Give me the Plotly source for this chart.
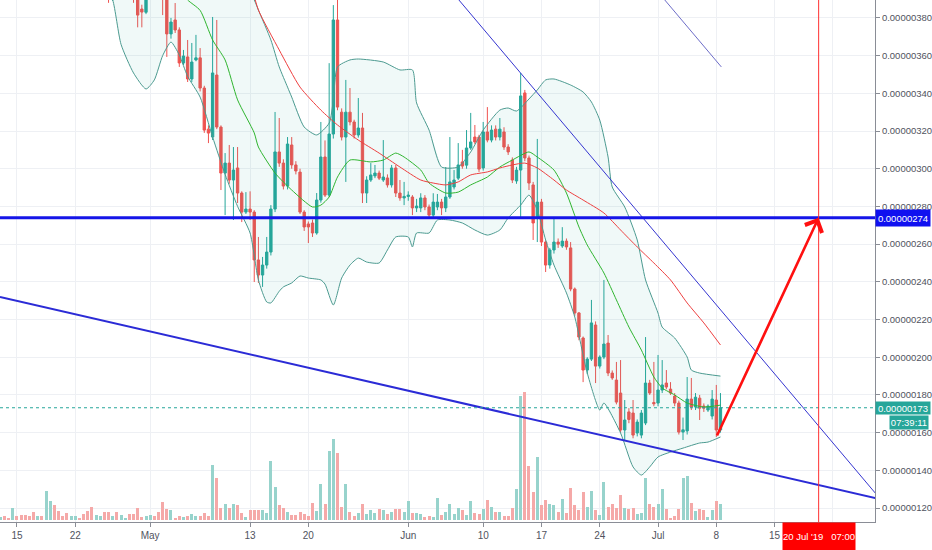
import numpy as np
import pandas as pd
import plotly.graph_objects as go

SAT = 1e-8  # prices below are in satoshi

# 12h candles from 13 Apr 2019 (the first ~26 are above the visible range)
opens = [428, 431, 427, 425, 429, 426, 423, 421, 419, 414, 417, 414, 426, 432, 422, 416, 414, 410, 413, 415,
         412, 408, 403, 398, 402, 405, 399, 390, 395, 392, 396, 398, 393, 391, 384.7, 383, 392, 396, 393, 392,
         390.5, 371.5, 378.9, 373.6, 356.1, 359.3, 347.6, 357.7, 358.8, 342.8, 321, 316.8, 349.7, 322.1, 297.7, 303, 294, 300.4, 287.1, 277,
         278.6, 277, 251.6, 243.6, 248.9, 255.8, 278.6, 308.9, 303, 290.8, 312.6, 302, 298.2, 277, 270.7, 271.2, 265.9, 283.4, 306.2, 286,
         318.4, 378.9, 330, 316.8, 330, 324.8, 317.9, 321.6, 287.1, 294, 296.2, 297.7, 294, 295.1, 291.4, 300.4, 287.1, 284.5, 285.3, 285,
         279.2, 279.2, 284.5, 279.7, 275.4, 279.7, 282.3, 279.2, 285, 290.3, 295, 303.6, 301.9, 311, 316.8, 316.8, 300.4, 319.5, 315.2, 321,
         316.8, 319.5, 311.5, 304.6, 293.5, 299.3, 340.2, 305.7, 291.4, 273.9, 282.3, 261.1, 248.9, 256.9, 261.1, 259, 261.6, 258, 236.2, 223.5,
         210.2, 193.2, 199, 217.1, 195.3, 200.1, 207.5, 191.6, 187.9, 181, 161.4, 171, 170.4, 159.8, 158.7, 165.1, 186.3, 176, 175.7, 182.6,
         186.3, 183.1, 179.4, 175.7, 160.3, 160.9, 177.8, 173.6, 178.3, 174.1, 172, 168.8, 177.3, 161.4]
highs = [432, 433, 429, 431, 430, 428, 425, 423, 420, 418, 418, 430, 435, 434, 424, 418, 416, 414, 416, 416,
         413, 410, 405, 404, 407, 406, 401, 397, 398, 397, 400, 399, 395, 394, 387, 394, 398, 398, 396, 395,
         392, 380, 387.9, 375, 363, 368.3, 366.7, 371, 364, 344, 323, 380.5, 378.9, 323, 308.3, 312.6, 311.5, 311.5, 288, 287.6,
         288, 278, 263.8, 253.2, 263.8, 280.7, 330.1, 326.9, 305, 316.8, 316.8, 304, 300, 278, 272, 273, 287.1, 324.8, 315, 356,
         386.8, 392, 332, 347.1, 342.8, 326, 337.5, 329.6, 296, 303, 302, 299, 315.2, 297, 302, 302, 294, 293, 288, 286,
         284, 287, 286, 281, 287, 286.6, 284, 300.9, 316.8, 299.3, 313.6, 310, 320.5, 329.6, 323.2, 318, 324.8, 332.7, 323, 323,
         326.9, 322, 313, 306, 301, 350.8, 341.8, 307, 293, 315.8, 284, 262, 258, 274.4, 263, 269, 263, 261.1, 237, 224,
         211, 200, 230.4, 219, 201, 241, 211.8, 193, 197.5, 198.5, 177.3, 173, 177.3, 167, 172, 210.7, 188, 197.5, 201.2, 198.5,
         193.2, 186.8, 181, 177, 168, 189.5, 189, 181, 180, 175.5, 175, 182.6, 185.3, 181]
lows = [426, 426, 424, 424, 425, 422, 420, 418, 412, 412, 413, 413, 424, 420, 414, 412, 408, 408, 411, 411,
        406, 401, 396, 396, 400, 397, 388, 389, 390, 391, 394, 392, 388, 375, 375, 382, 390, 391, 390, 381.5,
        359.3, 369, 372, 354, 355, 346, 346, 357, 341, 319, 313.6, 315.2, 321, 288.7, 275.4, 292, 272.8, 281.8, 271.7, 276,
        272.8, 239.9, 239.4, 237.3, 247, 254, 277, 301, 289, 289, 300, 297, 276, 267, 260.6, 263.8, 265, 282, 285, 285,
        316, 331, 315, 293, 323, 316, 316.5, 281.8, 281.8, 293, 295, 294, 293, 290, 290, 285, 283, 280.7, 283, 275.4,
        277, 277, 278, 273.9, 274, 278, 275.4, 277, 284, 289, 294, 300, 300, 310, 313, 298.3, 299, 314, 314, 315,
        315, 310, 307.3, 292.4, 292, 274.4, 304, 288.7, 262.2, 261.1, 259, 245.2, 247, 255, 258, 258, 257, 235, 222, 209,
        186.8, 191, 198, 186.3, 194, 199, 190, 188, 175, 160, 156.1, 165, 157, 158, 157, 164, 180, 174, 174, 181,
        183, 180, 174, 159, 156.1, 159, 172, 172, 166.7, 171, 171, 167, 157.7, 160]
closes = [431, 427, 425, 429, 426, 423, 421, 419, 414, 417, 414, 426, 432, 422, 416, 414, 410, 413, 415, 412,
          408, 403, 398, 402, 405, 399, 390, 395, 392, 396, 398, 393, 390, 381.5, 383.1, 392, 396, 393, 392, 390.5,
          371.5, 377.8, 373.6, 356.1, 359.8, 347.6, 356.6, 358.8, 342.8, 320.5, 318.9, 350.8, 322.1, 297.7, 303, 294, 299.3, 287.1, 277, 278.6,
          277, 251.6, 243.6, 248.9, 255.8, 278.6, 308.9, 303, 290.8, 313.1, 302, 298.8, 277, 269.1, 269.1, 265.9, 283.4, 306.2, 286, 318.4,
          378.9, 332.7, 316.8, 330, 324.8, 317.9, 321.6, 287.1, 294, 296.7, 297.7, 295, 295.6, 291.4, 300.4, 287.1, 284.5, 285.3, 286, 279.2,
          280.2, 284.5, 279.7, 275.4, 282.3, 282.3, 279.2, 285, 293, 294, 302, 301.4, 311, 314.2, 314.2, 299.8, 319.5, 315.2, 320.5, 316.8,
          321, 311.5, 308.9, 294, 299.3, 338.6, 305.7, 292.4, 271.2, 282.3, 261.1, 248.9, 256.9, 261.1, 260, 261.6, 258.5, 236.2, 223.5, 210.7,
          193.2, 199, 218.2, 195.3, 200.1, 207, 191.6, 189, 176.2, 161.4, 166.7, 167, 158.7, 165.6, 170.4, 186.3, 181, 175.3, 182.6, 185.3,
          184.2, 181, 175.7, 160.3, 161.5, 177.8, 173.6, 178.8, 173, 173, 174.1, 177.8, 161.4, 173.2]
volumes = [3, 4, 2, 12, 4, 5, 5, 4, 8, 4, 4, 29, 19, 15, 9, 4, 7, 4, 4, 2,
           6, 9, 13, 5, 4, 8, 8, 4, 8, 5, 2, 6, 6, 12, 3, 4, 5, 4, 8, 18,
           11, 10, 2, 4, 3, 4, 6, 4, 4, 7, 4, 55, 42, 12, 16, 12, 16, 15, 7, 3,
           10, 10, 10, 10, 7, 59, 33, 15, 12, 8, 5, 5, 8, 6, 4, 17, 9, 36, 16, 69,
           81, 67, 13, 36, 8, 4, 7, 16, 6, 10, 7, 11, 10, 6, 8, 11, 11, 8, 19, 7,
           7, 6, 3, 4, 3, 22, 5, 8, 16, 6, 12, 10, 5, 19, 7, 6, 11, 20, 13, 8,
           8, 4, 4, 12, 31, 124, 128, 54, 28, 63, 15, 20, 16, 15, 8, 21, 7, 32, 15, 10,
           28, 13, 29, 10, 5, 38, 13, 16, 12, 25, 12, 11, 12, 6, 7, 42, 16, 13, 16, 31,
           11, 2, 4, 11, 42, 44, 17, 9, 11, 10, 3, 10, 19, 16]

# Bollinger bands (20) and moving averages, read at candle indices
bb_upper_idx = [25, 35, 45, 52, 58, 61, 62, 65, 67, 69, 70, 73, 76, 79, 80, 81, 84, 86, 92, 96, 99, 100, 103, 106, 110,
                113, 116, 120, 122, 124, 127, 129, 131, 133, 137, 140, 142, 144, 146, 147, 150, 153, 155, 158, 159, 162,
                165, 166, 168, 173]
bb_upper = [455, 445, 430, 418, 400, 389.5, 384.2, 368.3, 354, 343.3, 338, 322.1, 317.9, 324.2, 336.5, 354, 357.7, 358.2,
            356.6, 352.4, 352.4, 334.9, 320.5, 300.9, 300.9, 308.9, 320.5, 331.1, 332.2, 330.6, 337, 341.8, 347.1, 347.6,
            344.4, 340.7, 335.4, 325.8, 306.2, 290.3, 279.7, 262.2, 241, 223.4, 216, 210.2, 200.1, 193.2, 191.6, 190]
bb_lower_idx = [25, 27, 29, 32, 35, 37, 39, 41, 43, 45, 48, 51, 54, 57, 60, 62, 64, 65, 67, 68, 70, 72, 74, 77, 78, 80,
                82, 84, 86, 88, 91, 93, 95, 98, 99, 100, 103, 105, 108, 111, 114, 117, 120, 122, 125, 127, 129, 131, 133,
                136, 138, 141, 144, 145, 149, 152, 154, 156, 158, 161, 164, 168, 170, 173]
bb_lower = [398, 389.5, 366, 350.8, 342.3, 347.1, 360, 367.2, 360.3, 349, 338, 316.8, 297, 280, 265.9, 241, 229.3, 228.8,
            235, 237.3, 239.4, 243.1, 242, 241, 238.8, 227.7, 242, 248.9, 252.6, 250.5, 250, 256.9, 263.8, 263.8, 258.5,
            265.9, 265.9, 272.8, 272.8, 271.2, 267.5, 264.8, 267.5, 273.9, 280.7, 286, 278.1, 262.2, 248.9, 234.1, 221.3,
            191.6, 172, 175.7, 159.8, 141.8, 137.5, 141.8, 147.1, 149.7, 151.8, 154.5, 155, 157.7]
bb_mid_idx = [43, 45, 48, 51, 54, 57, 61, 62, 66, 70, 75, 77, 79, 81, 84, 89, 92, 95, 97, 101, 103, 107, 110, 113, 117,
              120, 123, 127, 129, 133, 136, 139, 141, 145, 148, 151, 154, 157, 159, 162, 165, 169, 173]
bb_mid = [395, 389.5, 384, 368.3, 357.7, 336.5, 319, 311.5, 297.7, 288.7, 279.7, 280.7, 285, 295.6, 304.6, 303.6, 304.6,
          308.3, 306.2, 299.3, 292.4, 287.1, 287.6, 291.4, 295.6, 300.9, 304.6, 308.9, 306.2, 299.3, 287.1, 269.1, 259.5,
          244.7, 230.4, 216, 203.8, 189.5, 183.7, 180, 175.7, 173.6, 174.6]
ma_idx = [60, 62, 67, 72, 77, 81, 86, 91, 96, 101, 104, 107, 110, 113, 117, 120, 123, 126, 129, 133, 136, 140, 145, 149,
          153, 157, 161, 165, 169, 173]
ma_vals = [400, 384.2, 363, 343.3, 331.1, 323.2, 315.2, 308.3, 300.9, 294, 292.4, 291.4, 293, 296.7, 298.3, 300.4, 302,
           303, 300.4, 294, 288.7, 283.4, 276.5, 267.5, 258.5, 250, 241, 228.8, 218.2, 206.5]

# drawings
support_x = ["2019-04-12 23:00", "2019-07-27 02:00"]
support_y = [232.0, 125.3]
resist_x = ["2019-06-07 02:00", "2019-07-27 02:00"]
resist_y = [389.5, 128.0]
upper_x = ["2019-07-01 19:30", "2019-07-08 14:30"]
upper_y = [389.5, 354.0]
target_level = 274
last_price = 173.2
arrow_from = ("2019-07-08 00:00", 157.7)
target_time = "2019-07-20 07:00"

tick_dates = ["2019-04-15", "2019-04-22", "2019-05-01", "2019-05-13", "2019-05-20", "2019-06-01", "2019-06-10",
              "2019-06-17", "2019-06-24", "2019-07-01", "2019-07-08", "2019-07-15", "2019-07-22"]
tick_text = ["15", "22", "May", "13", "20", "Jun", "10", "17", "24", "Jul", "8", "15", "22"]
price_ticks = list(range(120, 381, 20))

UP, DOWN = "#26a69a", "#ef5350"
FONT = "Liberation Sans, Arial, sans-serif"

dates = pd.date_range("2019-04-13", periods=len(opens), freq="12h")
o, h, l, c = (np.array(a) * SAT for a in (opens, highs, lows, closes))
vol_colors = ["#97d3cc" if cc >= oo else "#f5a9a8" for oo, cc in zip(opens, closes)]

fig = go.Figure()

# bollinger fill
up_x = list(dates[bb_upper_idx])
lo_x = list(dates[bb_lower_idx])
fig.add_trace(go.Scatter(x=up_x + lo_x[::-1], y=list(np.array(bb_upper) * SAT) + list(np.array(bb_lower)[::-1] * SAT),
                         fill="toself", fillcolor="rgba(38,166,154,0.07)", line=dict(width=0), mode="lines",
                         hoverinfo="skip", showlegend=False))
for idx, vals, col in [(bb_upper_idx, bb_upper, "#4b9a90"), (bb_lower_idx, bb_lower, "#4b9a90"),
                       (bb_mid_idx, bb_mid, "#2fb52f"), (ma_idx, ma_vals, "#ee4040")]:
    fig.add_trace(go.Scatter(x=dates[idx], y=np.array(vals) * SAT, mode="lines",
                             line=dict(color=col, width=1, shape="spline", smoothing=0.6),
                             hoverinfo="skip", showlegend=False))

fig.add_trace(go.Candlestick(
    x=dates, open=o, high=h, low=l, close=c,
    increasing=dict(line=dict(color=UP, width=1), fillcolor=UP),
    decreasing=dict(line=dict(color=DOWN, width=1), fillcolor=DOWN),
    whiskerwidth=0, showlegend=False))

fig.add_trace(go.Bar(x=dates, y=volumes, marker=dict(color=vol_colors, line=dict(width=0)),
                     width=0.5 * 86400000 * 0.72, yaxis="y2", showlegend=False, hoverinfo="skip"))

# drawn lines
shapes = [
    dict(type="line", xref="x", yref="y", x0=support_x[0], x1=support_x[1], y0=support_y[0] * SAT,
         y1=support_y[1] * SAT, line=dict(color="#2b2bd6", width=2), layer="above"),
    dict(type="line", xref="x", yref="y", x0=resist_x[0], x1=resist_x[1], y0=resist_y[0] * SAT,
         y1=resist_y[1] * SAT, line=dict(color="#3535d0", width=1), layer="above"),
    dict(type="line", xref="x", yref="y", x0=upper_x[0], x1=upper_x[1], y0=upper_y[0] * SAT,
         y1=upper_y[1] * SAT, line=dict(color="#6d6dc8", width=1), layer="above"),
    dict(type="line", xref="paper", yref="y", x0=0, x1=1, y0=target_level * SAT, y1=target_level * SAT,
         line=dict(color="#1515e8", width=3), layer="above"),
    dict(type="line", xref="paper", yref="y", x0=0, x1=1, y0=last_price * SAT, y1=last_price * SAT,
         line=dict(color=UP, width=1, dash="dot"), layer="above"),
    dict(type="line", xref="x", yref="paper", x0=target_time, x1=target_time, y0=0, y1=1,
         line=dict(color="#ff3030", width=1), layer="above"),
]

annotations = [
    dict(x=target_time, y=target_level * SAT, xref="x", yref="y", ax=arrow_from[0], ay=arrow_from[1] * SAT,
         axref="x", ayref="y", text="", showarrow=True, arrowhead=4, arrowsize=1.4, arrowwidth=2.6,
         arrowcolor="#ff1010", standoff=0),
    dict(x=1, xref="paper", y=target_level * SAT, yref="y", xanchor="left", text="0.00000274", showarrow=False,
         bgcolor="#1010f0", font=dict(color="white", size=9.5, family=FONT), width=54, height=16, borderpad=0),
    dict(x=1, xref="paper", y=last_price * SAT, yref="y", xanchor="left", yshift=-0.5, text="0.00000173",
         showarrow=False, bgcolor=UP, font=dict(color="white", size=9.5, family=FONT), width=54, height=12,
         borderpad=0),
    dict(x=1, xref="paper", y=165.2 * SAT, yref="y", xanchor="left", xshift=14, text="07:39:11", showarrow=False,
         bgcolor=UP, font=dict(color="white", size=9.5, family=FONT), width=38, height=13, borderpad=0),
    dict(x=target_time, xref="x", y=0, yref="paper", yanchor="top", text="20 Jul '19   07:00", showarrow=False,
         bgcolor="#ff0000", font=dict(color="white", size=9.5, family=FONT), width=72, height=27, borderpad=0),
]

fig.update_layout(
    width=932, height=550, margin=dict(l=0, r=54, t=0, b=28),
    paper_bgcolor="white", plot_bgcolor="white", showlegend=False,
    font=dict(family=FONT, size=9.5, color="#50535e"),
    xaxis=dict(type="date", range=["2019-04-12 23:07", "2019-07-27 01:26"], rangeslider=dict(visible=False),
               tickvals=tick_dates, ticktext=tick_text, showgrid=True, gridcolor="#eef0f4", zeroline=False,
               showline=True, linecolor="#8a8d96", ticks="outside", ticklen=4, tickcolor="#8a8d96",
               tickfont=dict(size=10)),
    yaxis=dict(side="right", range=[112.6 * SAT, 389.5 * SAT], tickvals=[p * SAT for p in price_ticks],
               ticktext=["0.%08d" % p for p in price_ticks], showgrid=True, gridcolor="#eef0f4", zeroline=False,
               showline=True, linecolor="#8a8d96", ticks="outside", ticklen=4, tickcolor="#8a8d96"),
    yaxis2=dict(overlaying="y", range=[-2, 520], visible=False, fixedrange=True),
    bargap=0, boxgap=0.2, shapes=shapes, annotations=annotations,
)

fig.write_html("out.html", config={"displayModeBar": False},
               post_script="document.body.style.margin='0';")
